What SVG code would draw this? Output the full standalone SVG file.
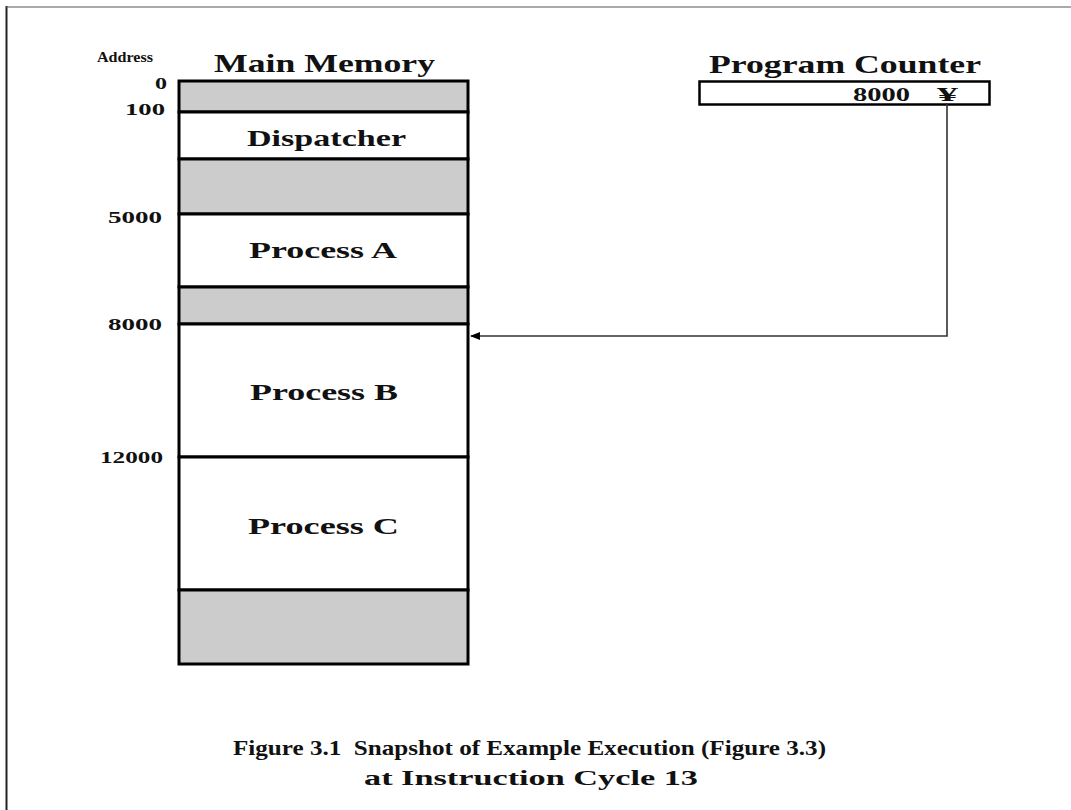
<svg xmlns="http://www.w3.org/2000/svg" width="1071" height="810" viewBox="0 0 1071 810">
<defs>
<style>
text{font-family:"Liberation Serif","Times New Roman",serif;font-weight:bold;fill:#111}
.seg{stroke:#000;stroke-width:3}
.grey{fill:#cccccc}
.white{fill:#fff}
.addr{font-size:16px}
.lbl{font-size:24px}
.conn{fill:none;stroke:#333;stroke-width:1.6}
</style>
<marker id="ah" viewBox="0 0 10 10" refX="9" refY="5" markerWidth="11" markerHeight="10" markerUnits="userSpaceOnUse" orient="auto">
<path d="M0,1 L10,5 L0,9 z" fill="#000"/>
</marker>
</defs>
<rect width="1071" height="810" fill="#fff"/>
<g id="frame">
<line x1="6.5" y1="6" x2="6.5" y2="810" stroke="#222" stroke-width="2"/>
<line x1="6" y1="7" x2="1071" y2="7" stroke="#555" stroke-width="1"/>
</g>
<g id="header">
<text x="97" y="62" style="font-size:14px" textLength="56" lengthAdjust="spacingAndGlyphs">Address</text>
<text x="214" y="72" style="font-size:25px" textLength="221" lengthAdjust="spacingAndGlyphs">Main Memory</text>
</g>
<g id="addresses">
<text class="addr" x="155" y="89" textLength="12" lengthAdjust="spacingAndGlyphs">0</text>
<text class="addr" x="125" y="115" textLength="40" lengthAdjust="spacingAndGlyphs">100</text>
<text class="addr" x="108" y="223" textLength="54" lengthAdjust="spacingAndGlyphs">5000</text>
<text class="addr" x="108" y="330" textLength="54" lengthAdjust="spacingAndGlyphs">8000</text>
<text class="addr" x="100" y="463" textLength="63" lengthAdjust="spacingAndGlyphs">12000</text>
</g>
<g id="seg-0"><rect class="grey seg" x="179" y="81" width="289" height="31"/></g>
<g id="seg-dispatcher"><rect class="white seg" x="179" y="112" width="289" height="47"/><text class="lbl" x="247" y="146" textLength="159" lengthAdjust="spacingAndGlyphs">Dispatcher</text></g>
<g id="seg-1"><rect class="grey seg" x="179" y="159" width="289" height="55"/></g>
<g id="seg-a"><rect class="white seg" x="179" y="214" width="289" height="73"/><text class="lbl" x="249" y="258" textLength="148" lengthAdjust="spacingAndGlyphs">Process A</text></g>
<g id="seg-2"><rect class="grey seg" x="179" y="287" width="289" height="37"/></g>
<g id="seg-b"><rect class="white seg" x="179" y="324" width="289" height="133"/><text class="lbl" x="250" y="400" textLength="148" lengthAdjust="spacingAndGlyphs">Process B</text></g>
<g id="seg-c"><rect class="white seg" x="179" y="457" width="289" height="133"/><text class="lbl" x="248" y="534" textLength="151" lengthAdjust="spacingAndGlyphs">Process C</text></g>
<g id="seg-3"><rect class="grey seg" x="179" y="590" width="289" height="74"/></g>
<g id="pc">
<text x="709" y="73" style="font-size:25px" textLength="272" lengthAdjust="spacingAndGlyphs">Program Counter</text>
<rect x="699.5" y="81.5" width="290" height="23" fill="#fff" stroke="#000" stroke-width="2.5"/>
<text x="853" y="101" style="font-size:18px" textLength="57" lengthAdjust="spacingAndGlyphs">8000</text>
<text x="937" y="101" style="font-size:18px" textLength="21" lengthAdjust="spacingAndGlyphs">¥</text>
</g>
<g id="connectors">
<path class="conn" d="M947,103 V336 H471" marker-end="url(#ah)"/>
</g>
<g id="caption">
<text x="233" y="755" style="font-size:21px" textLength="593" lengthAdjust="spacingAndGlyphs" xml:space="preserve">Figure 3.1  Snapshot of Example Execution (Figure 3.3)</text>
<text x="364" y="785" style="font-size:21px" textLength="334" lengthAdjust="spacingAndGlyphs">at Instruction Cycle 13</text>
</g>
</svg>
